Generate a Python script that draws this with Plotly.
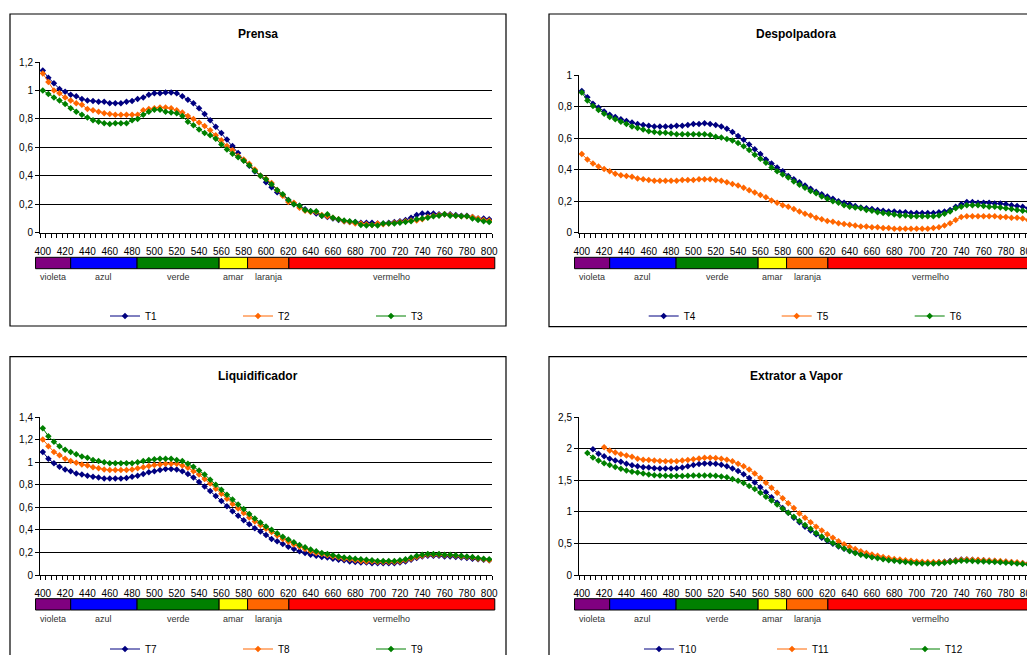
import plotly.graph_objects as go

# ---------------- data ----------------
wavelength = list(range(400, 805, 5))          # 81 categories (nm)
tick_labels = list(range(400, 801, 20))

T1 = [1.14, 1.09, 1.05, 1.01, 0.99, 0.97, 0.96, 0.94, 0.93, 0.925,
      0.92, 0.92, 0.91, 0.91, 0.91, 0.92, 0.925, 0.94, 0.95, 0.97,
      0.98, 0.98, 0.985, 0.985, 0.98, 0.96, 0.935, 0.91, 0.875, 0.835,
      0.79, 0.745, 0.70, 0.655, 0.61, 0.56, 0.51, 0.47, 0.43, 0.40,
      0.355, 0.32, 0.285, 0.265, 0.23, 0.20, 0.19, 0.165, 0.15, 0.135,
      0.12, 0.11, 0.10, 0.09, 0.08, 0.075, 0.075, 0.07, 0.07, 0.07,
      0.065, 0.065, 0.07, 0.075, 0.08, 0.09, 0.105, 0.125, 0.135, 0.135,
      0.135, 0.13, 0.13, 0.13, 0.125, 0.12, 0.12, 0.11, 0.10, 0.10,
      0.095]
T2 = [1.12, 1.06, 1.00, 0.98, 0.95, 0.93, 0.91, 0.90, 0.87, 0.86,
      0.85, 0.84, 0.835, 0.83, 0.83, 0.83, 0.83, 0.83, 0.86, 0.87,
      0.875, 0.88, 0.88, 0.875, 0.86, 0.845, 0.82, 0.80, 0.775, 0.75,
      0.72, 0.685, 0.65, 0.61, 0.58, 0.54, 0.515, 0.485, 0.445, 0.40,
      0.38, 0.35, 0.30, 0.26, 0.215, 0.21, 0.175, 0.155, 0.145, 0.145,
      0.125, 0.115, 0.105, 0.095, 0.08, 0.075, 0.065, 0.065, 0.06, 0.055,
      0.065, 0.06, 0.065, 0.07, 0.075, 0.08, 0.085, 0.085, 0.095, 0.11,
      0.12, 0.125, 0.13, 0.125, 0.12, 0.115, 0.115, 0.11, 0.10, 0.09,
      0.085]
T3 = [1.00, 0.975, 0.95, 0.93, 0.905, 0.875, 0.85, 0.83, 0.81, 0.79,
      0.78, 0.77, 0.765, 0.77, 0.77, 0.77, 0.79, 0.80, 0.83, 0.85,
      0.865, 0.865, 0.85, 0.845, 0.84, 0.82, 0.78, 0.755, 0.725, 0.70,
      0.685, 0.66, 0.62, 0.585, 0.555, 0.53, 0.505, 0.475, 0.435, 0.40,
      0.375, 0.34, 0.30, 0.27, 0.23, 0.20, 0.19, 0.16, 0.15, 0.15,
      0.12, 0.13, 0.105, 0.095, 0.085, 0.08, 0.075, 0.055, 0.05, 0.055,
      0.05, 0.065, 0.065, 0.065, 0.07, 0.075, 0.08, 0.095, 0.10, 0.105,
      0.115, 0.12, 0.13, 0.12, 0.12, 0.115, 0.115, 0.10, 0.09, 0.08,
      0.075]
T4 = [0.90, 0.86, 0.82, 0.795, 0.77, 0.75, 0.735, 0.72, 0.71, 0.70,
      0.69, 0.685, 0.68, 0.675, 0.675, 0.675, 0.675, 0.68, 0.68, 0.685,
      0.69, 0.69, 0.695, 0.69, 0.685, 0.675, 0.66, 0.64, 0.615, 0.59,
      0.56, 0.53, 0.50, 0.465, 0.44, 0.415, 0.39, 0.36, 0.34, 0.32,
      0.30, 0.28, 0.26, 0.245, 0.23, 0.215, 0.20, 0.19, 0.18, 0.17,
      0.16, 0.155, 0.15, 0.145, 0.14, 0.135, 0.135, 0.13, 0.13, 0.125,
      0.125, 0.125, 0.125, 0.125, 0.13, 0.135, 0.145, 0.165, 0.18, 0.195,
      0.195, 0.19, 0.19, 0.19, 0.185, 0.185, 0.18, 0.175, 0.17, 0.165,
      0.155]
T5 = [0.50, 0.465, 0.44, 0.42, 0.405, 0.39, 0.375, 0.365, 0.36, 0.355,
      0.345, 0.34, 0.335, 0.33, 0.33, 0.33, 0.33, 0.33, 0.335, 0.335,
      0.335, 0.34, 0.34, 0.34, 0.335, 0.33, 0.32, 0.31, 0.30, 0.285,
      0.27, 0.255, 0.24, 0.225, 0.205, 0.19, 0.175, 0.165, 0.15, 0.135,
      0.12, 0.11, 0.095, 0.085, 0.075, 0.07, 0.06, 0.055, 0.05, 0.045,
      0.04, 0.04, 0.035, 0.035, 0.03, 0.03, 0.025, 0.025, 0.025, 0.025,
      0.025, 0.025, 0.025, 0.03, 0.035, 0.045, 0.06, 0.08, 0.10, 0.105,
      0.105, 0.105, 0.105, 0.105, 0.105, 0.10, 0.10, 0.095, 0.095, 0.09,
      0.08]
T6 = [0.89, 0.84, 0.805, 0.78, 0.755, 0.735, 0.72, 0.705, 0.69, 0.675,
      0.665, 0.655, 0.645, 0.64, 0.635, 0.635, 0.63, 0.625, 0.625, 0.625,
      0.625, 0.625, 0.625, 0.62, 0.61, 0.605, 0.595, 0.585, 0.57, 0.55,
      0.525, 0.495, 0.47, 0.445, 0.415, 0.39, 0.37, 0.35, 0.325, 0.305,
      0.285, 0.265, 0.25, 0.23, 0.215, 0.20, 0.19, 0.175, 0.165, 0.16,
      0.155, 0.145, 0.14, 0.13, 0.125, 0.12, 0.115, 0.11, 0.11, 0.105,
      0.105, 0.105, 0.105, 0.105, 0.11, 0.12, 0.135, 0.155, 0.165, 0.175,
      0.175, 0.175, 0.17, 0.165, 0.165, 0.16, 0.155, 0.15, 0.145, 0.14,
      0.135]
T7 = [1.09, 1.03, 0.99, 0.96, 0.935, 0.92, 0.90, 0.89, 0.88, 0.87,
      0.865, 0.855, 0.855, 0.855, 0.855, 0.86, 0.87, 0.88, 0.895, 0.91,
      0.92, 0.93, 0.94, 0.94, 0.935, 0.92, 0.895, 0.865, 0.825, 0.785,
      0.745, 0.70, 0.655, 0.61, 0.565, 0.525, 0.485, 0.45, 0.415, 0.385,
      0.355, 0.32, 0.30, 0.275, 0.25, 0.23, 0.21, 0.195, 0.18, 0.17,
      0.16, 0.155, 0.145, 0.135, 0.13, 0.12, 0.115, 0.11, 0.11, 0.105,
      0.105, 0.105, 0.105, 0.105, 0.11, 0.12, 0.135, 0.15, 0.165, 0.17,
      0.17, 0.17, 0.165, 0.165, 0.16, 0.155, 0.15, 0.145, 0.14, 0.135,
      0.13]
T8 = [1.20, 1.14, 1.09, 1.06, 1.03, 1.01, 0.995, 0.98, 0.97, 0.955,
      0.945, 0.935, 0.93, 0.93, 0.93, 0.93, 0.935, 0.945, 0.955, 0.965,
      0.975, 0.98, 0.985, 0.985, 0.985, 0.97, 0.95, 0.92, 0.89, 0.85,
      0.81, 0.765, 0.72, 0.675, 0.63, 0.59, 0.55, 0.51, 0.475, 0.44,
      0.41, 0.38, 0.35, 0.32, 0.295, 0.27, 0.25, 0.23, 0.21, 0.195,
      0.185, 0.175, 0.165, 0.155, 0.145, 0.14, 0.13, 0.125, 0.12, 0.12,
      0.115, 0.115, 0.115, 0.115, 0.12, 0.13, 0.145, 0.16, 0.17, 0.18,
      0.18, 0.18, 0.175, 0.175, 0.17, 0.165, 0.16, 0.155, 0.145, 0.14,
      0.13]
T9 = [1.30, 1.23, 1.18, 1.14, 1.11, 1.09, 1.07, 1.05, 1.04, 1.02,
      1.01, 1.00, 0.99, 0.99, 0.99, 0.99, 0.99, 1.00, 1.01, 1.02,
      1.025, 1.03, 1.03, 1.03, 1.02, 1.01, 0.985, 0.96, 0.925, 0.89,
      0.845, 0.80, 0.755, 0.71, 0.67, 0.625, 0.585, 0.54, 0.50, 0.465,
      0.43, 0.40, 0.37, 0.34, 0.315, 0.29, 0.265, 0.245, 0.225, 0.21,
      0.195, 0.185, 0.175, 0.165, 0.155, 0.15, 0.145, 0.14, 0.135, 0.13,
      0.125, 0.125, 0.125, 0.125, 0.13, 0.14, 0.155, 0.17, 0.18, 0.185,
      0.185, 0.185, 0.18, 0.18, 0.175, 0.17, 0.165, 0.16, 0.15, 0.145,
      0.14]
T10 = [None, None, 1.99, 1.92, 1.88, 1.84, 1.81, 1.79, 1.76, 1.735,
       1.72, 1.705, 1.70, 1.69, 1.685, 1.685, 1.685, 1.69, 1.70, 1.72,
       1.74, 1.755, 1.765, 1.765, 1.76, 1.745, 1.72, 1.685, 1.645, 1.595,
       1.535, 1.465, 1.39, 1.31, 1.23, 1.145, 1.06, 0.985, 0.905, 0.835,
       0.765, 0.705, 0.645, 0.59, 0.54, 0.495, 0.45, 0.415, 0.38, 0.355,
       0.33, 0.31, 0.29, 0.275, 0.26, 0.245, 0.235, 0.225, 0.215, 0.21,
       0.20, 0.195, 0.195, 0.195, 0.20, 0.21, 0.22, 0.235, 0.245, 0.245,
       0.24, 0.235, 0.235, 0.225, 0.22, 0.21, 0.21, 0.20, 0.19, 0.185,
       0.18]
T11 = [None, None, None, None, 2.02, 1.97, 1.94, 1.91, 1.89, 1.87,
       1.84, 1.825, 1.82, 1.81, 1.805, 1.80, 1.80, 1.80, 1.81, 1.82,
       1.83, 1.845, 1.855, 1.855, 1.85, 1.84, 1.825, 1.80, 1.76, 1.72,
       1.67, 1.605, 1.535, 1.46, 1.38, 1.30, 1.215, 1.135, 1.06, 0.975,
       0.905, 0.835, 0.765, 0.705, 0.645, 0.59, 0.535, 0.485, 0.445, 0.41,
       0.375, 0.35, 0.325, 0.305, 0.285, 0.27, 0.255, 0.245, 0.235, 0.225,
       0.215, 0.21, 0.205, 0.205, 0.205, 0.21, 0.215, 0.23, 0.24, 0.245,
       0.24, 0.24, 0.235, 0.23, 0.225, 0.22, 0.215, 0.205, 0.20, 0.19,
       0.18]
T12 = [None, 1.93, 1.86, 1.81, 1.77, 1.74, 1.71, 1.68, 1.655, 1.635,
       1.62, 1.605, 1.59, 1.58, 1.575, 1.57, 1.565, 1.565, 1.565, 1.57,
       1.575, 1.575, 1.575, 1.575, 1.57, 1.56, 1.545, 1.52, 1.49, 1.455,
       1.41, 1.36, 1.30, 1.24, 1.18, 1.115, 1.05, 0.985, 0.92, 0.855,
       0.79, 0.73, 0.665, 0.61, 0.555, 0.505, 0.46, 0.42, 0.38, 0.35,
       0.32, 0.30, 0.28, 0.265, 0.25, 0.235, 0.225, 0.215, 0.205, 0.195,
       0.185, 0.18, 0.18, 0.18, 0.185, 0.195, 0.205, 0.215, 0.225, 0.225,
       0.22, 0.215, 0.215, 0.21, 0.205, 0.20, 0.195, 0.19, 0.18, 0.175,
       0.165]

# colour bands of the visible spectrum (nm edges)
band_names = ["violeta", "azul", "verde", "amar", "laranja", "vermelho"]
band_edges = [393.5, 425, 484.5, 558, 583.5, 620.5, 805]
band_colors = ["#800080", "#0000FF", "#008000", "#FFFF00", "#FF6600", "#FF0000"]

series_colors = ["#000080", "#FF6600", "#008000"]

panel_titles = ["Prensa", "Despolpadora", "Liquidificador", "Extrator a Vapor"]
panel_series = [[("T1", T1), ("T2", T2), ("T3", T3)],
                [("T4", T4), ("T5", T5), ("T6", T6)],
                [("T7", T7), ("T8", T8), ("T9", T9)],
                [("T10", T10), ("T11", T11), ("T12", T12)]]
panel_ymax = [1.2, 1.0, 1.4, 2.5]
panel_dtick = [0.2, 0.2, 0.2, 0.5]

for _, s in [p for ps in panel_series for p in ps]:
    assert len(s) == len(wavelength)

# ---------------- layout geometry (page pixels) ----------------
OFF = 8   # the page body offsets the figure by 8 px
W, H = 1035 - OFF, 663 - 2 * OFF   # keep the page free of scrollbars
FONT = "Liberation Sans, Arial, sans-serif"

def fx(x):
    return (x - OFF) / W

def fy(y):
    return 1 - (y - OFF) / H

geom = [
    dict(xdom=(40, 492), ydom=(62, 232.7), box=(10, 14, 506, 326), title=(258, 34),
         bar=(257.3, 268.7), lab=277, leg=(113, 316)),
    dict(xdom=(579, 1031), ydom=(75.3, 232.7), box=(549, 14, 1046, 326.7), title=(796, 34),
         bar=(257.3, 268.7), lab=277, leg=(651.7, 316)),
    dict(xdom=(40, 492), ydom=(417, 575), box=(10, 356.7, 506, 700), title=(258, 376),
         bar=(598.7, 610), lab=619, leg=(113, 649)),
    dict(xdom=(579, 1031), ydom=(417, 575), box=(549, 356.7, 1046, 700), title=(796, 376),
         bar=(598.7, 610), lab=619, leg=(647, 649)),
]

xmin, xmax = wavelength[0] - 2.5, wavelength[-1] + 2.5
minor_ticks = [xmin + 5 * k for k in range(len(wavelength) + 1)]

fig = go.Figure()
layout = dict(width=W, height=H,
              margin=dict(l=0, r=0, t=0, b=0, pad=0, autoexpand=False),
              paper_bgcolor="white", plot_bgcolor="white", separators=",.",
              font=dict(family=FONT, size=10, color="black"),
              showlegend=True)
shapes = []
annotations = []

for i in range(4):
    g = geom[i]
    n = "" if i == 0 else str(i + 1)
    xa, ya = "x" + n, "y" + n
    leg = "legend" + n
    for j, (name, vals) in enumerate(panel_series[i]):
        fig.add_trace(go.Scatter(
            x=wavelength, y=vals, name=name, mode="lines+markers",
            xaxis=xa, yaxis=ya, legend=leg,
            line=dict(color=series_colors[j], width=1),
            marker=dict(symbol="diamond", size=5, color=series_colors[j]),
            connectgaps=False))
    layout["xaxis" + n] = dict(
        domain=[fx(g["xdom"][0]), fx(g["xdom"][1])], anchor=ya,
        range=[xmin, xmax], tickmode="array", tickvals=tick_labels,
        ticktext=[str(t) for t in tick_labels],
        ticks="outside", ticklen=9, tickcolor="rgba(0,0,0,0)",
        ticklabeloverflow="allow",
        tickfont=dict(size=10, family=FONT, color="black"),
        showgrid=False, zeroline=False, showline=True, linecolor="black", linewidth=1,
        minor=dict(tickmode="array", tickvals=minor_ticks, ticks="outside",
                   ticklen=4, tickcolor="black", tickwidth=1, showgrid=False),
        fixedrange=True)
    layout["yaxis" + n] = dict(
        domain=[fy(g["ydom"][1]), fy(g["ydom"][0])], anchor=xa,
        range=[0, panel_ymax[i]], tickmode="linear", tick0=0, dtick=panel_dtick[i],
        ticks="outside", ticklen=4, tickcolor="black",
        tickfont=dict(size=10, family=FONT, color="black"),
        showgrid=True, gridcolor="black", gridwidth=1,
        zeroline=False, showline=True, linecolor="black", linewidth=1,
        fixedrange=True)
    layout[leg] = dict(
        orientation="h", x=fx(g["leg"][0] - 8), y=fy(g["leg"][1]),
        xanchor="left", yanchor="middle", xref="paper", yref="paper",
        entrywidth=88, bgcolor="rgba(0,0,0,0)",
        font=dict(size=10, family=FONT, color="black"), tracegroupgap=0)

    # panel frame
    b = g["box"]
    shapes.append(dict(type="rect", xref="paper", yref="paper",
                       x0=fx(b[0]), x1=fx(b[2]), y0=fy(b[3]), y1=fy(b[1]),
                       line=dict(color="black", width=1.2), fillcolor="rgba(0,0,0,0)",
                       layer="below"))
    # title
    annotations.append(dict(text="<b>%s</b>" % panel_titles[i], xref="paper", yref="paper",
                            x=fx(g["title"][0]), y=fy(g["title"][1]),
                            xanchor="center", yanchor="middle", showarrow=False,
                            font=dict(size=12, family=FONT, color="black")))
    # colour band bar, positioned on the wavelength scale
    span = xmax - xmin
    for k, bn in enumerate(band_names):
        x0 = (band_edges[k] - xmin) / span
        x1 = (band_edges[k + 1] - xmin) / span
        shapes.append(dict(type="rect", xref=xa + " domain", yref="paper",
                           x0=x0, x1=x1, y0=fy(g["bar"][1]), y1=fy(g["bar"][0]),
                           fillcolor=band_colors[k], line=dict(color="black", width=1)))
        annotations.append(dict(text=bn, xref=xa + " domain", yref="paper",
                                x=(x0 + x1) / 2, y=fy(g["lab"]),
                                xanchor="center", yanchor="middle", showarrow=False,
                                font=dict(size=9, family=FONT, color="#333333")))

layout["shapes"] = shapes
layout["annotations"] = annotations
fig.update_layout(**layout)
fig.write_html("out.html")
